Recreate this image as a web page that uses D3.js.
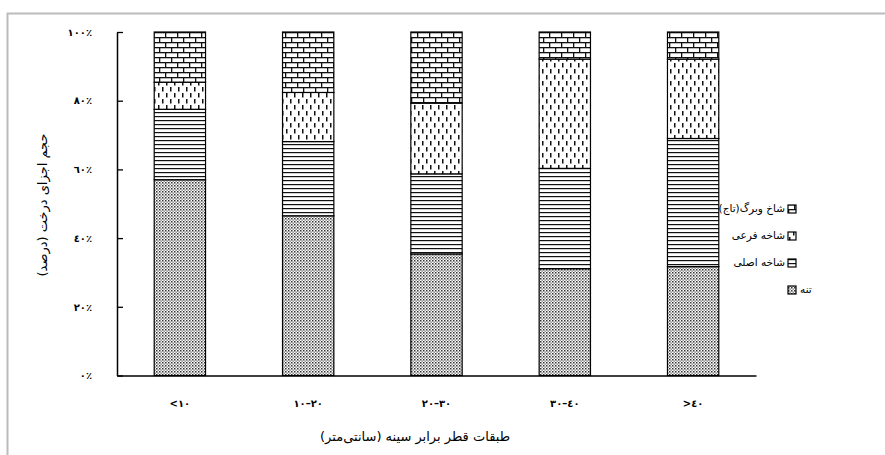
<!DOCTYPE html>
<html>
<head>
<meta charset="utf-8">
<script src="https://cdn.jsdelivr.net/npm/d3@7"></script>
<style>
  body { margin: 0; background: #fff; }
  text { font-family: "DejaVu Sans", sans-serif; fill: #000; }
</style>
</head>
<body>
<div id="chart"></div>
<script>
// categories (DBH classes) and stacked series, percent of tree volume
var classes = ["<١٠", "١٠–٢٠", "٢٠–٣٠", "٣٠–٤٠", ">٤٠"];
var trunk      = [57.0, 46.5, 35.4, 31.1, 31.7];   // تنه
var mainBranch = [20.5, 21.6, 23.3, 29.2, 37.3];   // شاخه اصلی
var subBranch  = [7.9, 14.3, 20.6, 31.8, 23.1];    // شاخه فرعی
var crown      = [14.6, 17.6, 20.7, 7.9, 7.9];     // شاخ وبرگ(تاج)
var seriesNames = ["تنه", "شاخه اصلی", "شاخه فرعی", "شاخ وبرگ(تاج)"];
var yTicks = [0, 20, 40, 60, 80, 100];
var tickLabels = ["٠٪", "٢٠٪", "٤٠٪", "٦٠٪", "٨٠٪", "١٠٠٪"];
var xTitle = "طبقات قطر برابر سینه (سانتی‌متر)";
var yTitle = "حجم اجزای درخت (درصد)";

// RLM on both ends so the closing bracket stays inside the rtl run
function rtl(s) { return "\u200F" + s + "\u200F"; }

var W = 885, H = 455;
var margin = {top: 32, left: 117, right: 129, bottom: 79.5};
var width = W - margin.left - margin.right,
    height = H - margin.top - margin.bottom;

var svg = d3.select("#chart").append("svg")
    .attr("width", W).attr("height", H);

// fill patterns, one per series
var defs = svg.append("defs");

var p1 = defs.append("pattern").attr("id", "pTrunk").attr("patternUnits", "userSpaceOnUse")
    .attr("width", 3).attr("height", 3);
p1.append("rect").attr("width", 3).attr("height", 3).attr("fill", "#fff");
p1.append("rect").attr("x", 0).attr("y", 0).attr("width", 1.5).attr("height", 1.5).attr("fill", "#333");
p1.append("rect").attr("x", 1.5).attr("y", 1.5).attr("width", 1.3).attr("height", 1.3).attr("fill", "#666");

var p2 = defs.append("pattern").attr("id", "pMain").attr("patternUnits", "userSpaceOnUse")
    .attr("width", 6).attr("height", 4);
p2.append("rect").attr("width", 6).attr("height", 4).attr("fill", "#fff");
p2.append("rect").attr("x", 0).attr("y", 0).attr("width", 6).attr("height", 1.2).attr("fill", "#111");

var p3 = defs.append("pattern").attr("id", "pSub").attr("patternUnits", "userSpaceOnUse")
    .attr("width", 8).attr("height", 12);
p3.append("rect").attr("width", 8).attr("height", 12).attr("fill", "#fff");
p3.append("rect").attr("x", 1).attr("y", 1).attr("width", 1.5).attr("height", 4.5).attr("fill", "#111");
p3.append("rect").attr("x", 5).attr("y", 7).attr("width", 1.5).attr("height", 4.5).attr("fill", "#111");

var p4 = defs.append("pattern").attr("id", "pCrown").attr("patternUnits", "userSpaceOnUse")
    .attr("width", 12).attr("height", 10);
p4.append("rect").attr("width", 12).attr("height", 10).attr("fill", "#fff");
p4.append("rect").attr("x", 0).attr("y", 0).attr("width", 12).attr("height", 1.3).attr("fill", "#111");
p4.append("rect").attr("x", 0).attr("y", 5).attr("width", 12).attr("height", 1.3).attr("fill", "#111");
p4.append("rect").attr("x", 0).attr("y", 0).attr("width", 1.3).attr("height", 5).attr("fill", "#111");
p4.append("rect").attr("x", 6).attr("y", 5).attr("width", 1.3).attr("height", 5).attr("fill", "#111");

var fills = ["url(#pTrunk)", "url(#pMain)", "url(#pSub)", "url(#pCrown)"];

// outer frame
svg.append("path")
    .attr("d", "M7.5," + H + "V13.5H" + W)
    .attr("fill", "none").attr("stroke", "#bbb").attr("stroke-width", 2);

var g = svg.append("g").attr("transform", "translate(" + margin.left + "," + margin.top + ")");

var x = d3.scaleBand().domain(classes).range([0, width])
    .paddingInner(0.6).paddingOuter(0.29);
var y = d3.scaleLinear().domain([0, 100]).range([height, 0]);

// stack data
var rows = classes.map(function (c, i) {
    return {cls: c, s0: trunk[i], s1: mainBranch[i], s2: subBranch[i], s3: crown[i]};
});
var stack = d3.stack().keys(["s0", "s1", "s2", "s3"]);
var layers = stack(rows);

g.selectAll(".layer")
    .data(layers)
    .enter().append("g")
    .attr("class", "layer")
    .attr("fill", function (d, i) { return fills[i]; })
    .selectAll("rect")
    .data(function (d) { return d; })
    .enter().append("rect")
    .attr("x", function (d) { return x(d.data.cls); })
    .attr("y", function (d) { return y(Math.min(d[1], 100)); })
    .attr("width", x.bandwidth())
    .attr("height", function (d) { return y(d[0]) - y(Math.min(d[1], 100)); })
    .attr("stroke", "#000")
    .attr("stroke-width", 1.2);

// y axis, ticks pointing inward
var yAxis = g.append("g")
    .call(d3.axisLeft(y).tickValues(yTicks)
        .tickFormat(function (d, i) { return tickLabels[i]; })
        .tickSizeInner(-6).tickSizeOuter(0).tickPadding(25));
yAxis.select(".domain").attr("stroke-width", 1.5);
yAxis.selectAll(".tick line").attr("stroke-width", 1.3);
yAxis.selectAll("text").style("font-size", "10px").style("font-weight", "bold")
    .attr("font-family", null);

// x axis
var xAxis = g.append("g")
    .attr("transform", "translate(0," + height + ")")
    .call(d3.axisBottom(x).tickSize(0).tickPadding(24));
xAxis.select(".domain").attr("stroke-width", 1.5);
xAxis.selectAll("text").style("font-size", "10px").style("font-weight", "bold")
    .attr("direction", "ltr").attr("unicode-bidi", "bidi-override")
    .attr("font-family", null);

// axis titles
svg.append("text")
    .attr("x", 415).attr("y", 441)
    .attr("text-anchor", "middle")
    .style("font-size", "13px")
    .text(rtl(xTitle));

svg.append("text")
    .attr("transform", "translate(43,205) rotate(-90)")
    .attr("text-anchor", "middle")
    .attr("dominant-baseline", "middle")
    .style("font-size", "13px")
    .text(rtl(yTitle));

// legend (top item is crown, bottom is trunk)
var legendY = [290, 263, 236, 209];
var leg = svg.append("g");
seriesNames.forEach(function (name, i) {
    var row = leg.append("g").attr("transform", "translate(788," + legendY[i] + ")");
    row.append("rect").attr("x", 0).attr("y", -4).attr("width", 8).attr("height", 8)
        .attr("fill", fills[i]).attr("stroke", "#000").attr("stroke-width", 1.2);
    if (i === 0) {
        row.append("text").attr("x", 12).attr("y", 0).attr("dominant-baseline", "middle")
            .attr("text-anchor", "start").style("font-size", "10.5px").text(rtl(name));
    } else {
        row.append("text").attr("x", -3).attr("y", 0).attr("dominant-baseline", "middle")
            .attr("text-anchor", "end").style("font-size", "10.5px").text(rtl(name));
    }
});
</script>
</body>
</html>
